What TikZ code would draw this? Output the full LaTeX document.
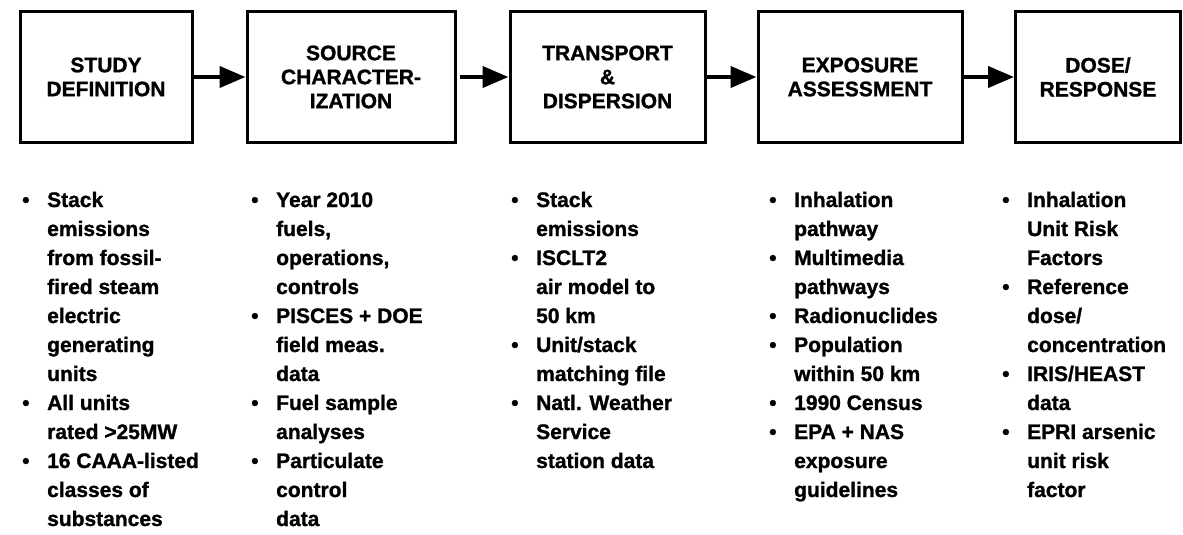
\documentclass[tikz,border=0pt]{standalone}
\usepackage{fontspec}
\setmainfont{Liberation Sans}[BoldFeatures={FakeBold=1.2}]
\usetikzlibrary{arrows.meta}

% bullet column of the lists
\newcommand{\bul}{\makebox[25pt][l]{\textbullet}}
\newcommand{\nob}{\hspace{25pt}}

\tikzset{
  stage/.style={draw, line width=3pt, inner sep=0pt, minimum height=130pt,
    align=center, font=\fontsize{21}{24}\selectfont\bfseries},
  flow/.style={line width=4pt, -{Triangle[length=26pt,width=21pt]}},
  notes/.style={anchor=base west, inner sep=0pt,
    font=\fontsize{21}{29}\selectfont\bfseries}
}

\begin{document}
\begin{tikzpicture}[x=1pt,y=-1pt]
\useasboundingbox (0,0) rectangle (1183,535);

% process stages
\node[stage, minimum width=172pt] (s1) at (106,77) {STUDY\\DEFINITION};
\node[stage, minimum width=208pt] (s2) at (351,77) {SOURCE\\CHARACTER-\\IZATION};
\node[stage, minimum width=195pt] (s3) at (607.5,77) {TRANSPORT\\\&\\DISPERSION};
\node[stage, minimum width=204pt] (s4) at (860,77) {EXPOSURE\\ASSESSMENT};
\node[stage, minimum width=165pt] (s5) at (1098,77) {DOSE/\\RESPONSE};

% arrows between stages
\draw[flow] (s1.east) -- (s2.west);
\draw[flow] ([xshift=3pt]s2.east) -- (s3.west);
\draw[flow] (s3.east) -- (s4.west);
\draw[flow] (s4.east) -- (s5.west);

% notes under each stage
\node[notes] (n1) at (22,207) {\begin{tabular}[t]{@{}l@{}}
\bul Stack\\
\nob emissions\\
\nob from fossil-\\
\nob fired steam\\
\nob electric\\
\nob generating\\
\nob units\\
\bul All units\\
\nob rated >25MW\\
\bul 16 CAAA-listed\\
\nob classes of\\
\nob substances
\end{tabular}};

\node[notes] (n2) at (251,207) {\begin{tabular}[t]{@{}l@{}}
\bul Year 2010\\
\nob fuels,\\
\nob operations,\\
\nob controls\\
\bul PISCES + DOE\\
\nob field meas.\\
\nob data\\
\bul Fuel sample\\
\nob analyses\\
\bul Particulate\\
\nob control\\
\nob data
\end{tabular}};

\node[notes] (n3) at (511,207) {\begin{tabular}[t]{@{}l@{}}
\bul Stack\\
\nob emissions\\
\bul ISCLT2\\
\nob air model to\\
\nob 50 km\\
\bul Unit/stack\\
\nob matching file\\
\bul Natl. Weather\\
\nob Service\\
\nob station data
\end{tabular}};

\node[notes] (n4) at (769,207) {\begin{tabular}[t]{@{}l@{}}
\bul Inhalation\\
\nob pathway\\
\bul Multimedia\\
\nob pathways\\
\bul Radionuclides\\
\bul Population\\
\nob within 50 km\\
\bul 1990 Census\\
\bul EPA + NAS\\
\nob exposure\\
\nob guidelines
\end{tabular}};

\node[notes] (n5) at (1002,207) {\begin{tabular}[t]{@{}l@{}}
\bul Inhalation\\
\nob Unit Risk\\
\nob Factors\\
\bul Reference\\
\nob dose/\\
\nob concentration\\
\bul IRIS/HEAST\\
\nob data\\
\bul EPRI arsenic\\
\nob unit risk\\
\nob factor
\end{tabular}};
\end{tikzpicture}
\end{document}
